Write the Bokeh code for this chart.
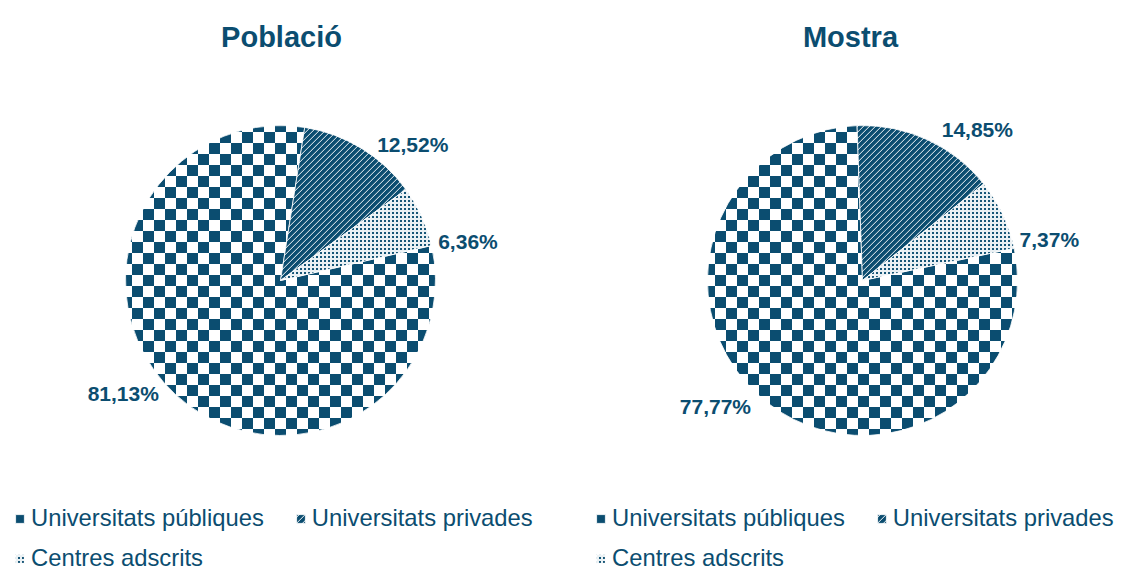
import math, zlib, struct, base64
from bokeh.plotting import figure
from bokeh.models import ColumnDataSource, Range1d, Legend, LegendItem, ImageURLTexture
from bokeh.core.properties import value
from bokeh.embed import file_html
from bokeh.resources import INLINE

# ---------------- data ----------------
chart_titles = ["Població", "Mostra"]
categories = ["Universitats públiques", "Universitats privades", "Centres adscrits"]
poblacio = [81.13, 12.52, 6.36]
mostra = [77.77, 14.85, 7.37]
series = [poblacio, mostra]

# ---------------- layout / style ----------------
W, H = 1121, 572
BLUE_RGB = (11, 77, 112)
BLUE = "#0b4d70"
FONT = "Liberation Sans"
pie_centers = [(280, 292), (862, 292)]
pie_radius = 155
first_slice_deg = [81.0, 92.0]     # angle where drawing begins (clockwise)
draw_order = [1, 2, 0]             # privades, centres, públiques clockwise
title_pos = [(281, 536), (850, 536)]
label_radius = 192
label_shift_deg = 12
legend_x = [14, 595]
legend_rows_y = [40, 0]


def blend(t):
    """mix of blue (t=1) and white (t=0)"""
    return tuple(int(round(255 + (c - 255) * t)) for c in BLUE_RGB) + (255,)


def make_png(n, shade):
    raw = b""
    for y in range(n):
        raw += b"\x00"
        for x in range(n):
            raw += bytes(blend(shade(x, y)))

    def chunk(t, d):
        c = struct.pack(">I", len(d)) + t + d
        return c + struct.pack(">I", zlib.crc32(t + d) & 0xffffffff)
    png = (b"\x89PNG\r\n\x1a\n"
           + chunk(b"IHDR", struct.pack(">IIBBBBB", n, n, 8, 6, 0, 0, 0))
           + chunk(b"IDAT", zlib.compress(raw)) + chunk(b"IEND", b""))
    return "data:image/png;base64," + base64.b64encode(png).decode()


def checker(x, y):
    return 1.0 if ((x // 11) + (y // 11)) % 2 == 0 else 0.0


def stripes(x, y):
    return [1.0, 1.0, 1.0, 1.0, 0.8, 0.25][(x + y) % 6]


def dots(x, y):
    return 0.95 if (x < 2 and y < 2) else 0.08


textures = {
    "checker": ImageURLTexture(url=make_png(22, checker)),
    "stripes": ImageURLTexture(url=make_png(6, stripes)),
    "dots": ImageURLTexture(url=make_png(4, dots)),
}
cat_patterns = ["checker", "stripes", "dots"]

p = figure(width=W, height=H, x_range=Range1d(0, W), y_range=Range1d(0, H),
           output_backend="svg", toolbar_location=None, min_border=0,
           x_axis_type=None, y_axis_type=None)
p.grid.visible = False
p.outline_line_color = None
p.background_fill_color = "white"
p.border_fill_color = "white"


def slice_angles(vals, first):
    total = sum(vals)
    out = {}
    a = first
    for i in draw_order:
        span = vals[i] / total * 360.0
        out[i] = (a, a - span)
        a -= span
    return out


angles = [slice_angles(v, f) for v, f in zip(series, first_slice_deg)]

renderers = []
for k, cat in enumerate(categories):
    src = ColumnDataSource(dict(
        x=[c[0] for c in pie_centers],
        y=[c[1] for c in pie_centers],
        start=[math.radians(angles[j][k][0]) for j in range(2)],
        end=[math.radians(angles[j][k][1]) for j in range(2)],
    ))
    r = p.wedge(x="x", y="y", radius=pie_radius, start_angle="start", end_angle="end",
                direction="clock", source=src, fill_color="white",
                line_color="white", line_width=0.8,
                hatch_pattern=value(cat_patterns[k]), hatch_color=BLUE,
                hatch_extra=textures)
    renderers.append(r)

# percentage labels
lx, ly, lt = [], [], []
for j, vals in enumerate(series):
    cx, cy = pie_centers[j]
    for k, v in enumerate(vals):
        a0, a1 = angles[j][k]
        mid = math.radians((a0 + a1) / 2 - label_shift_deg)
        lx.append(cx + label_radius * math.cos(mid))
        ly.append(cy + label_radius * math.sin(mid) - 3)
        lt.append(f"{v:.2f}".replace(".", ",") + "%")
p.text(x="x", y="y", text="t", source=ColumnDataSource(dict(x=lx, y=ly, t=lt)),
       text_font=value(FONT), text_font_style="bold", text_font_size="21px",
       text_color=BLUE, text_align="center", text_baseline="middle")

# titles
p.text(x="x", y="y", text="t",
       source=ColumnDataSource(dict(x=[t[0] for t in title_pos], y=[t[1] for t in title_pos], t=chart_titles)),
       text_font=value(FONT), text_font_style="bold", text_font_size="29px",
       text_color=BLUE, text_align="center", text_baseline="alphabetic")

# legends (two rows under each pie)
rows = [[0, 1], [2]]
for j in range(2):
    for ri, row in enumerate(rows):
        items = [LegendItem(label=categories[k], renderers=[renderers[k]], index=j) for k in row]
        leg = Legend(items=items, location=(legend_x[j], legend_rows_y[ri]),
                     orientation="horizontal", spacing=31, padding=0, margin=0,
                     glyph_width=11, glyph_height=11, label_standoff=6, label_height=27,
                     label_text_font=FONT, label_text_font_size="23.8px",
                     label_text_color=BLUE, border_line_color=None,
                     background_fill_alpha=0)
        p.add_layout(leg)

open("out.html", "w").write(file_html(p, INLINE))
